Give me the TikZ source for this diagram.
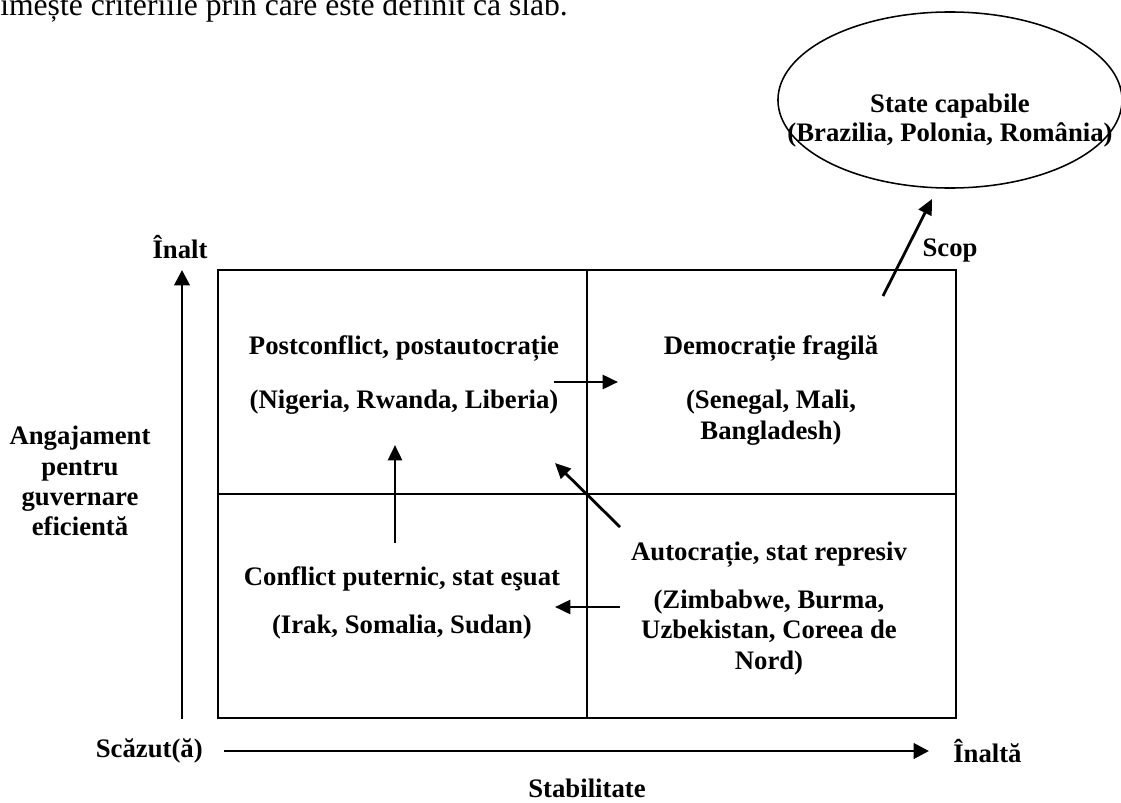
\documentclass[tikz,border=0pt]{standalone}
\usepackage{fontspec}
\setmainfont{Liberation Serif}
\usetikzlibrary{arrows.meta,positioning,shapes.geometric}

\tikzset{
  lbl/.style={font=\bfseries\fontsize{19}{21.5}\selectfont, align=center, inner sep=0pt},
  axisarrow/.style={line width=2pt, -{Triangle[length=11pt,width=11pt]}},
  move/.style={line width=2pt, -{Triangle[length=11pt,width=10pt]}},
}

\begin{document}
\begin{tikzpicture}[x=0.025cm, y=-0.025cm]
  \useasboundingbox (0,0) rectangle (1121,803);
  \clip (0,0) rectangle (1121,803);

  % line of running text cut by the page edge
  \node[font=\fontsize{22.5}{25}\selectfont, anchor=base west, inner sep=0pt] (intro) at (0,15)
    {imește criteriile prin care este definit ca slab.};

  % grid of four cells
  \draw[line width=1.4pt] (218,270) rectangle (956,718);
  \draw[line width=1.1pt] (587,270) -- (587,718);
  \draw[line width=1.1pt] (218,494) -- (956,494);

  % axes
  \coordinate (vlow) at (182,719);
  \coordinate (vhigh) at (182,270);
  \coordinate (hlow) at (224,751);
  \coordinate (hhigh) at (929,751);
  \draw[axisarrow] (vlow) -- (vhigh);
  \draw[axisarrow] (hlow) -- (hhigh);

  \node[lbl] (high) at (180,247) {Înalt};
  \node[lbl, anchor=east] (low) at (203,751) {Scăzut(ă)};
  \node[lbl, anchor=west] (highx) at (953,751) {Înaltă};
  \node[lbl, anchor=base] (stab) at (587,797) {Stabilitate};
  \node[lbl] (commit) at (80,481) {Angajament\\pentru\\guvernare\\eficientă};

  % cell texts (base = last line)
  \node[lbl, anchor=base] (post) at (404,354) {Postconflict, postautocrație};
  \node[lbl, anchor=base] (postx) at (404,408) {(Nigeria, Rwanda, Liberia)};
  \node[lbl, anchor=base] (demo) at (771,354) {Democrație fragilă};
  \node[lbl, anchor=base] (demox) at (771,439) {(Senegal, Mali,\\Bangladesh)};
  \node[lbl, anchor=base] (conf) at (402,585) {Conflict puternic, stat eşuat};
  \node[lbl, anchor=base] (confx) at (402,633) {(Irak, Somalia, Sudan)};
  \node[lbl, anchor=base] (auto) at (769,560) {Autocrație, stat represiv};
  \node[lbl, anchor=base] (autox) at (769,669) {(Zimbabwe, Burma,\\Uzbekistan, Coreea de\\Nord)};

  % goal
  \node[draw, line width=1.1pt, ellipse, minimum width=8.6cm, minimum height=4.4cm] (goal) at (950,100) {};
  \node[lbl, anchor=base] (goalt) at (950,112) {State capabile};
  \node[lbl, anchor=base] (goalx) at (950,141) {(Brazilia, Polonia, România)};

  % transitions
  \coordinate (m1a) at (554,382);
  \coordinate (m1b) at (618,382);
  \coordinate (m2a) at (395,543);
  \coordinate (m2b) at (395,445);
  \coordinate (m3a) at (620,527);
  \coordinate (m3b) at (555,463);
  \coordinate (m4a) at (620,607);
  \coordinate (m4b) at (555,607);
  \coordinate (sa) at (883,296);
  \coordinate (sb) at (932,199);
  \draw[move] (m1a) -- (m1b);
  \draw[move] (m2a) -- (m2b);
  \draw[move] (m3a) -- (m3b);
  \draw[move] (m4a) -- (m4b);
  \draw[move] (sa) -- (sb);
  \node[lbl] (scop) at (950,250) {Scop};
\end{tikzpicture}
\end{document}
